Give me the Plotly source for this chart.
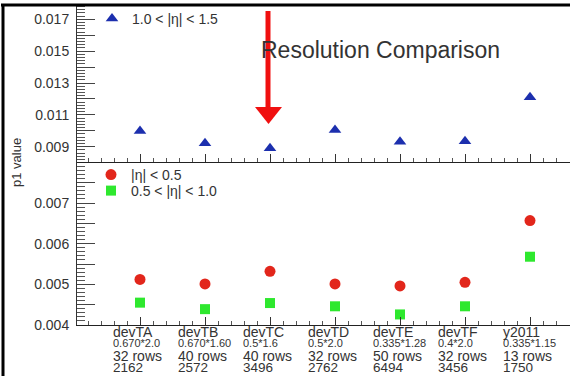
import plotly.graph_objects as go

# ---- data ----
categories = ["devTA", "devTB", "devTC", "devTD", "devTE", "devTF", "y2011"]
geometry = ["0.670*2.0", "0.670*1.60", "0.5*1.6", "0.5*2.0", "0.335*1.28", "0.4*2.0", "0.335*1.15"]
rows = ["32 rows", "40 rows", "40 rows", "32 rows", "50 rows", "32 rows", "13 rows"]
counts = ["2162", "2572", "3496", "2762", "6494", "3456", "1750"]

p1_eta_10_15 = [0.00999, 0.00921, 0.00890, 0.01005, 0.00931, 0.00935, 0.01210]
p1_eta_00_05 = [0.00512, 0.00501, 0.00532, 0.00501, 0.00496, 0.00505, 0.00657]
p1_eta_05_10 = [0.00455, 0.00439, 0.00454, 0.00446, 0.00426, 0.00446, 0.00568]

top_ticks = [0.009, 0.010, 0.011, 0.012, 0.013, 0.014, 0.015, 0.016, 0.017]
top_ticktext = ["0.009", "", "0.011", "", "0.013", "", "0.015", "", "0.017"]
bot_ticks = [0.004, 0.0045, 0.005, 0.0055, 0.006, 0.0065, 0.007, 0.0075]
bot_ticktext = ["0.004", "", "0.005", "", "0.006", "", "0.007", ""]

# ---- layout geometry (pixels) ----
W, H = 570, 376
L, R, T, B = 77, 570, 5, 325
PW, PH = R - L, B - T


def px(x):
    return (x - L) / PW


def py(y):
    return (B - y) / PH


FONT = "Liberation Sans, Arial, Helvetica, sans-serif"
TXT = "#333333"
idx = list(range(len(categories)))
split = py(162)

fig = go.Figure()
fig.add_trace(go.Scatter(
    x=idx, y=p1_eta_10_15, mode="markers", name="1.0 < |η| < 1.5",
    marker=dict(symbol="triangle-up", size=11, color="#1c2fae"),
    xaxis="x", yaxis="y", legend="legend"))
fig.add_trace(go.Scatter(
    x=idx, y=p1_eta_00_05, mode="markers", name="|η| < 0.5",
    marker=dict(symbol="circle", size=11, color="#e2261b"),
    xaxis="x2", yaxis="y2", legend="legend2"))
fig.add_trace(go.Scatter(
    x=idx, y=p1_eta_05_10, mode="markers", name="0.5 < |η| < 1.0",
    marker=dict(symbol="square", size=10, color="#2ee82e"),
    xaxis="x2", yaxis="y2", legend="legend3"))

xr = [(L - 140) / 65.0, (R - 140) / 65.0]
xcommon = dict(range=xr, showline=True, linecolor="#222", linewidth=1,
               tickvals=idx, ticktext=[""] * len(idx), ticks="inside",
               ticklen=8, tickcolor="#333", showgrid=False, zeroline=False,
               automargin=False,
               minor=dict(ticks="inside", tick0=0, dtick=0.2, ticklen=4,
                          tickcolor="#555", showgrid=False))
ycommon = dict(showline=True, linecolor="#333", linewidth=1, ticks="inside",
               ticklen=18, tickcolor="#444", showgrid=False, zeroline=False,
               tickfont=dict(family=FONT, size=14, color=TXT),
               ticklabelstandoff=4, automargin=False)

legfont = dict(family=FONT, size=14, color=TXT)
fig.update_layout(
    width=W, height=H,
    margin=dict(l=L, r=W - R, t=T, b=H - B, autoexpand=False),
    paper_bgcolor="white", plot_bgcolor="white",
    font=dict(family=FONT, color=TXT),
    xaxis=dict(**xcommon, anchor="y", domain=[0, 1]),
    xaxis2=dict(**xcommon, anchor="y2", domain=[0, 1]),
    yaxis=dict(**ycommon, domain=[split, 1], anchor="x",
               range=[0.00804, 0.0179], tickvals=top_ticks, ticktext=top_ticktext,
               minor=dict(ticks="inside", dtick=0.0002, tick0=0.009, ticklen=8,
                          tickcolor="#555", showgrid=False)),
    yaxis2=dict(**ycommon, domain=[0, split], anchor="x2",
                range=[0.004, 0.00801], tickvals=bot_ticks, ticktext=bot_ticktext,
                minor=dict(ticks="inside", dtick=0.0001, tick0=0.004, ticklen=8,
                           tickcolor="#555", showgrid=False)),
    legend=dict(x=px(92), y=py(3), xanchor="left", yanchor="top",
                bgcolor="rgba(0,0,0,0)", font=legfont, itemwidth=30),
    legend2=dict(x=px(91), y=py(159), xanchor="left", yanchor="top",
                 bgcolor="rgba(0,0,0,0)", font=legfont, itemwidth=30),
    legend3=dict(x=px(91), y=py(175), xanchor="left", yanchor="top",
                 bgcolor="rgba(0,0,0,0)", font=legfont, itemwidth=30),
    showlegend=True,
)

ann = []
# title
ann.append(dict(text="Resolution Comparison", x=px(380), y=py(50), xref="paper", yref="paper",
                showarrow=False, xanchor="center", yanchor="middle",
                font=dict(family=FONT, size=23, color=TXT)))
# y title
ann.append(dict(text="p1 value", x=px(16), y=py(163), xref="paper", yref="paper",
                showarrow=False, textangle=-90, xanchor="center", yanchor="middle",
                font=dict(family=FONT, size=13, color=TXT)))
# category labels
lines = [(categories, 332, 14), (geometry, 343, 11), (rows, 355.5, 14), (counts, 367.5, 13.5)]
for texts, ypix, fs in lines:
    for i, t in enumerate(texts):
        ann.append(dict(text=t, x=i, xref="x2", y=py(ypix), yref="paper", xshift=-28,
                        showarrow=False, xanchor="left", yanchor="middle", borderpad=0,
                        font=dict(family=FONT, size=fs, color=TXT)))
fig.update_layout(annotations=ann)

# frame border and red arrow
shapes = [
    dict(type="line", xref="paper", yref="paper", x0=px(1), x1=px(571), y0=py(5), y1=py(5),
         line=dict(color="black", width=3)),
    dict(type="line", xref="paper", yref="paper", x0=px(3), x1=px(3), y0=py(4), y1=py(377),
         line=dict(color="black", width=3)),
    dict(type="line", xref="paper", yref="paper", x0=px(268), x1=px(268), y0=py(11), y1=py(110),
         line=dict(color="#f01010", width=5)),
    dict(type="path", xref="paper", yref="paper",
         path=f"M {px(255)} {py(107)} L {px(282)} {py(107)} L {px(268.5)} {py(124)} Z",
         fillcolor="#f01010", line=dict(color="#f01010", width=0)),
]
fig.update_layout(shapes=shapes)

fig.write_html("out.html",
               config={"displayModeBar": False},
               post_script="document.body.style.margin='0';document.body.style.padding='0';"
                           "document.body.style.overflow='hidden';")
